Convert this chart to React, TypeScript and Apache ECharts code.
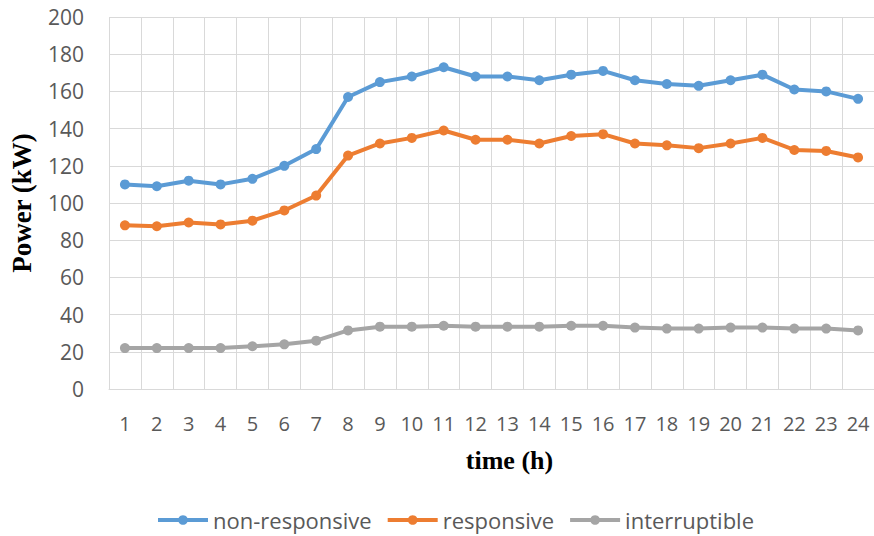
import React, { useEffect, useRef } from "react";
import * as echarts from "echarts";

// Hourly load profile, kW
const hours = ["1", "2", "3", "4", "5", "6", "7", "8", "9", "10", "11", "12", "13", "14", "15", "16", "17", "18", "19", "20", "21", "22", "23", "24"];
const nonResponsive = [110, 109, 112, 110, 113, 120, 129, 157, 165, 168, 173, 168, 168, 166, 169, 171, 166, 164, 163, 166, 169, 161, 160, 156];
const responsive = [88, 87.5, 89.5, 88.5, 90.5, 96, 104, 125.5, 132, 135, 139, 134, 134, 132, 136, 137, 132, 131, 129.5, 132, 135, 128.5, 128, 124.5];
const interruptible = [22, 22, 22, 22, 23, 24, 26, 31.5, 33.5, 33.5, 34, 33.5, 33.5, 33.5, 34, 34, 33, 32.5, 32.5, 33, 33, 32.5, 32.5, 31.5];

const seriesNames = ["non-responsive", "responsive", "interruptible"];
const seriesColors = ["#5B9BD5", "#ED7D31", "#A5A5A5"];

const labelFont = "'Open Sans', 'Noto Sans', sans-serif";
const titleFont = "'Liberation Serif', 'DejaVu Serif', serif";

export default function App() {
  const ref = useRef<HTMLDivElement>(null);

  useEffect(() => {
    if (!ref.current) return;
    const chart = echarts.init(ref.current, undefined, { renderer: "svg" });
    const values = [nonResponsive, responsive, interruptible];

    chart.setOption({
      animation: false,
      backgroundColor: "#ffffff",
      grid: { left: 107, right: 0, top: 17, bottom: 147 },
      xAxis: {
        type: "category",
        data: hours,
        boundaryGap: true,
        name: "time (h)",
        nameLocation: "middle",
        nameGap: 58,
        nameTextStyle: {
          fontFamily: titleFont,
          fontWeight: "bold",
          fontSize: 26,
          color: "#000000",
          padding: [0, 0, 0, 36],
        },
        axisLine: { show: true, lineStyle: { color: "#d9d9d9", width: 1 } },
        axisTick: { show: false },
        axisLabel: {
          fontFamily: labelFont,
          fontSize: 20,
          color: "#595959",
          margin: 24,
          interval: 0,
        },
        splitLine: { show: true, lineStyle: { color: "#d9d9d9", width: 1 } },
      },
      yAxis: {
        type: "value",
        min: 0,
        max: 200,
        interval: 20,
        name: "Power (kW)",
        nameLocation: "middle",
        nameGap: 74,
        nameTextStyle: {
          fontFamily: titleFont,
          fontWeight: "bold",
          fontSize: 27,
          color: "#000000",
        },
        axisLine: { show: false },
        axisTick: { show: false },
        axisLabel: {
          fontFamily: labelFont,
          fontSize: 21,
          color: "#595959",
          margin: 25,
        },
        splitLine: { show: true, lineStyle: { color: "#d9d9d9", width: 1 } },
      },
      legend: {
        left: 151,
        top: 504,
        itemWidth: 50,
        itemHeight: 12,
        itemGap: 14,
        lineStyle: { width: 4 },
        textStyle: {
          fontFamily: labelFont,
          fontSize: 22,
          color: "#595959",
        },
        data: seriesNames,
      },
      series: seriesNames.map((name, i) => ({
        name,
        type: "line",
        data: values[i],
        symbol: "circle",
        symbolSize: 10,
        color: seriesColors[i],
        lineStyle: { width: 4, color: seriesColors[i] },
        itemStyle: { color: seriesColors[i] },
      })),
    });

    return () => chart.dispose();
  }, []);

  return (
    <div
      ref={ref}
      style={{ position: "absolute", left: 0, top: 0, width: 874, height: 536 }}
    />
  );
}
